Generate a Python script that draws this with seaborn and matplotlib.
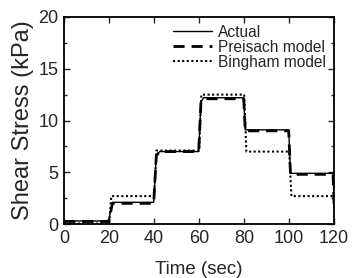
import numpy as np
import pandas as pd
import matplotlib
matplotlib.use("Agg")
import matplotlib.pyplot as plt
import seaborn as sns
from matplotlib.ticker import MultipleLocator

sns.set_style("ticks")
plt.rcParams["font.family"] = ["Liberation Sans", "DejaVu Sans"]

# step responses (time in sec, stress in kPa)
t_actual = [0, 19.8, 21.5, 39.8, 41.0, 42.5, 59.8, 60.8, 62.0, 79.8, 80.5, 99.8, 100.6, 119.5, 120]
y_actual = [0.3, 0.3, 2.1, 2.1, 6.7, 7.0, 7.0, 11.8, 12.2, 12.2, 9.1, 9.1, 4.9, 4.9, 1.8]

t_preisach = [0, 19.8, 21.5, 39.8, 41.0, 42.5, 59.8, 60.8, 62.0, 79.8, 80.5, 99.8, 100.6, 119.5, 120]
y_preisach = [0.25, 0.25, 2.0, 2.0, 6.6, 7.0, 7.0, 11.7, 12.1, 12.1, 9.0, 9.0, 4.8, 4.8, 1.6]

t_bingham = [0, 20.0, 21.0, 40.0, 41.0, 60.0, 61.0, 80.0, 81.0, 100.0, 101.0, 119.8, 120]
y_bingham = [0.05, 0.05, 2.7, 2.7, 7.1, 7.1, 12.5, 12.5, 7.0, 7.0, 2.7, 2.7, 1.5]

fig = plt.figure(figsize=(3.54, 2.78), dpi=100)
ax = fig.add_axes([0.181, 0.194, 0.763, 0.745])

sns.lineplot(x=t_actual, y=y_actual, color="black", lw=1.0, label="Actual", ax=ax)
sns.lineplot(x=t_preisach, y=y_preisach, color="black", lw=2.0, ls=(0, (4, 2.5)),
             label="Preisach model", ax=ax)
sns.lineplot(x=t_bingham, y=y_bingham, color="black", lw=1.5, ls=(0, (1, 1.2)),
             label="Bingham model", ax=ax)

ax.set_xlim(0, 120)
ax.set_ylim(0, 20)
ax.xaxis.set_major_locator(MultipleLocator(20))
ax.yaxis.set_major_locator(MultipleLocator(5))
ax.yaxis.set_minor_locator(MultipleLocator(2.5))
ax.tick_params(direction="in", which="both", top=True, right=True, labelsize=13,
               length=4, width=1)
ax.tick_params(axis="x", pad=4)
ax.tick_params(axis="y", pad=4)
ax.tick_params(which="minor", length=2.5)
for s in ax.spines.values():
    s.set_linewidth(1.3)
    s.set_color("black")

ax.set_xlabel("Time (sec)", fontsize=13.5, labelpad=10)
ax.set_ylabel("Shear Stress (kPa)", fontsize=17)
ax.yaxis.set_label_coords(-0.112, 0.5)

ax.legend(loc="upper right", frameon=False, fontsize=11.2, handlelength=2.5,
          handletextpad=0.4, labelspacing=0.0, borderaxespad=0.1,
          bbox_to_anchor=(1.0, 1.0))

fig.savefig("out.png", dpi=100, facecolor="white")
